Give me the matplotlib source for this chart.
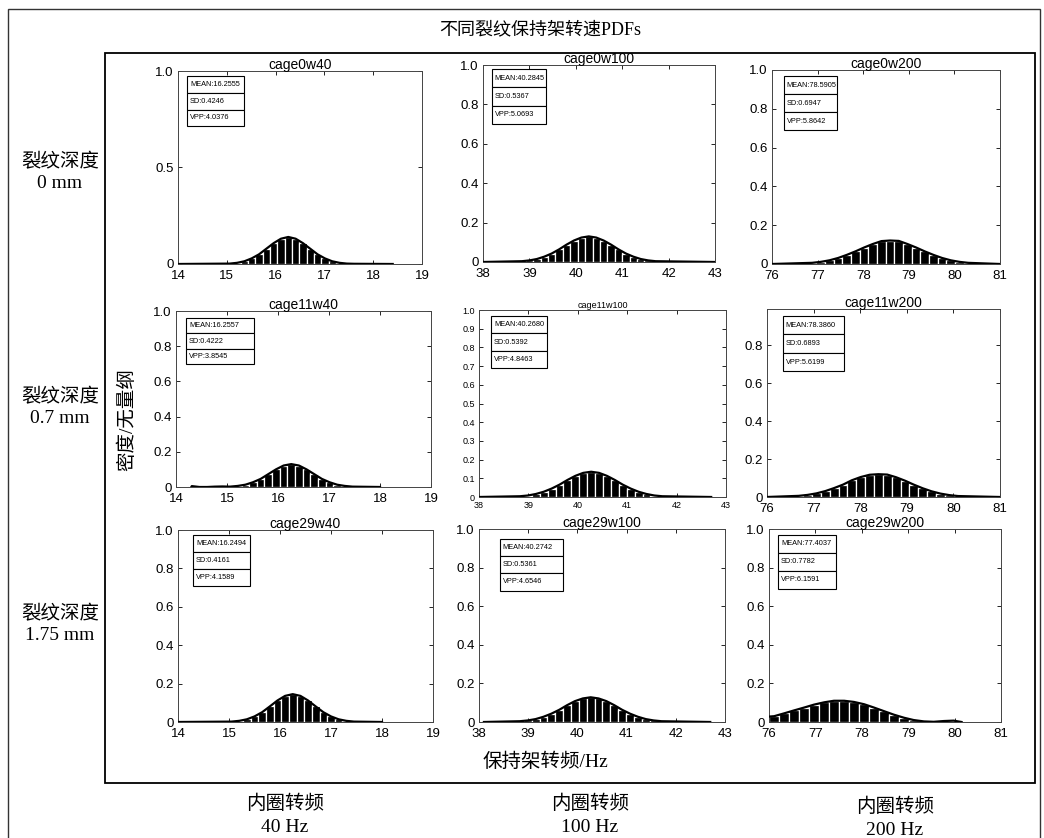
import matplotlib
matplotlib.use("Agg")
import matplotlib.pyplot as plt
from matplotlib.patches import Rectangle

# ---- data ----
titles = ["cage0w40", "cage0w100", "cage0w200",
          "cage11w40", "cage11w100", "cage11w200",
          "cage29w40", "cage29w100", "cage29w200"]

row_labels = ["裂纹深度\n0 mm", "裂纹深度\n0.7 mm", "裂纹深度\n1.75 mm"]
col_labels = ["内圈转频\n40 Hz", "内圈转频\n100 Hz", "内圈转频\n200 Hz"]

x_limits = [(14, 19), (38, 43), (76, 81)] * 3
x_ticks = [[14, 15, 16, 17, 18, 19], [38, 39, 40, 41, 42, 43],
           [76, 77, 78, 79, 80, 81]] * 3

stats_mean = ["16.2555", "40.2845", "78.5905", "16.2557", "40.2680",
              "78.3860", "16.2494", "40.2742", "77.4037"]
stats_sd = ["0.4246", "0.5367", "0.6947", "0.4222", "0.5392",
            "0.6893", "0.4161", "0.5361", "0.7782"]
stats_vpp = ["4.0376", "5.0693", "5.8642", "3.8545", "4.8463",
             "5.6199", "4.1589", "4.6546", "6.1591"]

# bin centres and probabilities per bin
c00 = [15.06, 15.21, 15.36, 15.51, 15.66, 15.81, 15.96, 16.11, 16.26,
       16.41, 16.56, 16.71, 16.86, 17.01, 17.16, 17.31, 17.46, 17.61]
h00 = [.002, .006, .014, .029, .050, .079, .108, .131, .140,
       .131, .108, .079, .050, .029, .014, .006, .002, .001]

c01 = [38.84, 39.00, 39.16, 39.32, 39.48, 39.64, 39.80, 39.96, 40.12, 40.28,
       40.44, 40.60, 40.76, 40.92, 41.08, 41.24, 41.40, 41.56, 41.72]
h01 = [.004, .008, .015, .027, .043, .064, .088, .109, .124, .130,
       .124, .109, .088, .064, .043, .027, .015, .008, .004]

c02 = [76.88, 77.07, 77.26, 77.45, 77.64, 77.83, 78.02, 78.21, 78.40, 78.59,
       78.78, 78.97, 79.16, 79.35, 79.54, 79.73, 79.92, 80.11, 80.30]
h02 = [.006, .011, .019, .031, .047, .065, .085, .103, .118, .121,
       .119, .103, .085, .065, .047, .031, .019, .011, .006]

c10 = [14.31, 14.46, 14.61, 14.76, 14.91, 15.06, 15.21, 15.36, 15.51, 15.66,
       15.81, 15.96, 16.11, 16.26, 16.41, 16.56, 16.71, 16.86, 17.01, 17.16,
       17.31, 17.46]
h10 = [.005, .000, .000, .002, .003, .002, .006, .013, .027, .046,
       .073, .100, .122, .130, .122, .100, .073, .046, .027, .013,
       .006, .002]

c11 = [38.83, 38.99, 39.15, 39.31, 39.47, 39.63, 39.79, 39.95, 40.11, 40.27,
       40.43, 40.59, 40.75, 40.91, 41.07, 41.23, 41.39, 41.55, 41.71]
h11 = [.004, .008, .016, .028, .045, .066, .091, .113, .129, .135,
       .129, .113, .091, .066, .045, .028, .016, .008, .004]

c12 = [76.68, 76.87, 77.06, 77.25, 77.44, 77.63, 77.82, 78.01, 78.20, 78.39,
       78.58, 78.77, 78.96, 79.15, 79.34, 79.53, 79.72, 79.91, 80.10]
h12 = [.006, .011, .019, .031, .047, .065, .088, .105, .117, .120,
       .118, .104, .086, .065, .046, .030, .018, .010, .005]

c20 = [15.05, 15.20, 15.35, 15.50, 15.65, 15.80, 15.95, 16.10, 16.25,
       16.40, 16.55, 16.70, 16.85, 17.00, 17.15, 17.30, 17.45]
h20 = [.002, .006, .014, .029, .051, .081, .112, .136, .145,
       .136, .112, .081, .051, .029, .014, .006, .002]

c21 = [38.83, 38.99, 39.15, 39.31, 39.47, 39.63, 39.79, 39.95, 40.11, 40.27,
       40.43, 40.59, 40.75, 40.91, 41.07, 41.23, 41.39, 41.55, 41.71]
h21 = [.004, .008, .015, .027, .043, .063, .087, .108, .122, .128,
       .122, .108, .087, .063, .043, .027, .015, .008, .004]

c22 = [76.11, 76.33, 76.54, 76.76, 76.97, 77.19, 77.40, 77.62, 77.83, 78.05,
       78.26, 78.48, 78.69, 78.91, 79.12, 79.34, 79.55, 79.77, 79.98]
h22 = [.030, .045, .060, .075, .090, .102, .110, .110, .104, .092,
       .075, .056, .038, .022, .010, .003, .001, .005, .007]

centers = [c00, c01, c02, c10, c11, c12, c20, c21, c22]
heights = [h00, h01, h02, h10, h11, h12, h20, h21, h22]

# where the outline curve starts and ends (x, y)
line_start = [(14.0, 0), (38.0, 0), (76.0, 0), (14.3, 0), (38.0, 0),
              (76.0, 0), (14.0, 0), (38.1, 0), (76.0, 0.028)]
line_end = [(18.4, 0), (43.0, 0), (81.0, 0), (18.0, 0), (42.7, 0),
            (81.0, 0), (18.0, 0), (42.7, 0), (80.15, 0)]

# ---- layout (pixel boxes: left, top, right, bottom) ----
W, H = 1044, 838
boxes = [(178, 71, 422, 264), (483, 65, 715, 262), (772, 70, 1000, 264),
         (176, 311, 431, 487), (479, 310, 726, 497), (767, 309, 1000, 497),
         (178, 530, 433, 722), (479, 529, 725, 722), (769, 529, 1001, 722)]
# info box: left, top, width, height of one cell (axes fraction)
info = [(.037, .974, .234, .087), (.039, .98, .233, .093),
        (.053, .969, .232, .093), (.039, .96, .267, .087),
        (.049, .968, .227, .093), (.069, .963, .26, .098),
        (.059, .974, .223, .089), (.085, .948, .256, .089),
        (.040, .969, .25, .093)]

y_ticks_std = [0, 0.2, 0.4, 0.6, 0.8, 1.0]
y_lab_std = ["0", "0.2", "0.4", "0.6", "0.8", "1.0"]

sans = ["Liberation Sans", "DejaVu Sans"]
serif_cjk = ["Liberation Serif", "Noto Sans CJK SC"]

fig = plt.figure(figsize=(W / 100, H / 100), dpi=100)

# outer and inner frames
fig.add_artist(Rectangle((8 / W, -0.01), (1040 - 8) / W, 1 - 9 / H + 0.01,
                         transform=fig.transFigure, fill=False,
                         edgecolor="#333333", linewidth=1.0))
fig.add_artist(Rectangle((105 / W, 1 - 783 / H), (1035 - 105) / W,
                         (783 - 53) / H, transform=fig.transFigure,
                         fill=False, edgecolor="black", linewidth=1.3))

for i in range(9):
    l, t, r, b = boxes[i]
    ax = fig.add_axes([l / W, 1 - b / H, (r - l) / W, (b - t) / H])
    xs = centers[i]
    ys = heights[i]
    w = xs[1] - xs[0]
    ax.bar(xs, ys, width=w, color="black", edgecolor="white",
           linewidth=0.9, zorder=2)
    lx = [line_start[i][0]] + xs + [line_end[i][0]]
    ly = [line_start[i][1]] + ys + [line_end[i][1]]
    ax.plot(lx, ly, color="black", linewidth=1.6, zorder=3)

    small = (i == 4)
    tfs = 6.5 if small else 9.5
    ax.set_xlim(*x_limits[i])
    ax.set_xticks(x_ticks[i])
    ax.set_xticklabels([str(v) for v in x_ticks[i]], fontsize=tfs,
                       family=sans)
    if i == 0:
        ax.set_ylim(0, 1)
        ax.set_yticks([0, 0.5, 1.0])
        ax.set_yticklabels(["0", "0.5", "1.0"], fontsize=tfs, family=sans)
    elif i == 4:
        ax.set_ylim(0, 1)
        yt = [0, .1, .2, .3, .4, .5, .6, .7, .8, .9, 1.0]
        ax.set_yticks(yt)
        ax.set_yticklabels(["0"] + ["%.1f" % v for v in yt[1:]],
                           fontsize=tfs, family=sans)
    elif i == 5:
        ax.set_ylim(0, 0.99)
        ax.set_yticks(y_ticks_std[:-1])
        ax.set_yticklabels(y_lab_std[:-1], fontsize=tfs, family=sans)
    else:
        ax.set_ylim(0, 1)
        ax.set_yticks(y_ticks_std)
        ax.set_yticklabels(y_lab_std, fontsize=tfs, family=sans)

    ax.tick_params(axis="x", direction="in", top=True, length=3,
                   width=0.6, pad=4 if not small else 3)
    ax.tick_params(axis="y", direction="in", right=True, length=3,
                   width=0.6, pad=3)
    for s in ax.spines.values():
        s.set_linewidth(0.7)
        s.set_color("#444444")
    ax.set_title(titles[i], fontsize=6.5 if small else 10, family=sans,
                 pad=1.5)

    # three stacked statistic boxes
    bx, by, bw, bh = info[i]
    texts = ["MEAN:" + stats_mean[i], "SD:" + stats_sd[i],
             "VPP:" + stats_vpp[i]]
    for k, txt in enumerate(texts):
        y0 = by - (k + 1) * bh
        ax.add_patch(Rectangle((bx, y0), bw, bh, transform=ax.transAxes,
                               fill=True, facecolor="white",
                               edgecolor="black", linewidth=0.8, zorder=4))
        ax.text(bx + 0.012, y0 + bh / 2, txt, transform=ax.transAxes,
                fontsize=5.3, family=sans, va="center", ha="left",
                zorder=5)

# figure texts
fig.text(540 / W, 1 - 30 / H, "不同裂纹保持架转速PDFs", ha="center",
         va="center", fontsize=13, family=serif_cjk)

row_y = [173, 408, 625]
for k in range(3):
    fig.text(60 / W, 1 - row_y[k] / H, row_labels[k], ha="center",
             va="center", fontsize=14, family=serif_cjk, linespacing=1.3)

col_x = [285, 590, 895]
col_y = [815, 815, 818]
for k in range(3):
    fig.text(col_x[k] / W, 1 - col_y[k] / H, col_labels[k], ha="center",
             va="center", fontsize=14, family=serif_cjk, linespacing=1.45)

fig.text(127 / W, 1 - 420 / H, "密度/无量纲", rotation=90, ha="center",
         va="center", fontsize=14, family=serif_cjk)
fig.text(545 / W, 1 - 762 / H, "保持架转频/Hz", ha="center", va="center",
         fontsize=14, family=serif_cjk)

fig.savefig("out.png", dpi=100, facecolor="white")
